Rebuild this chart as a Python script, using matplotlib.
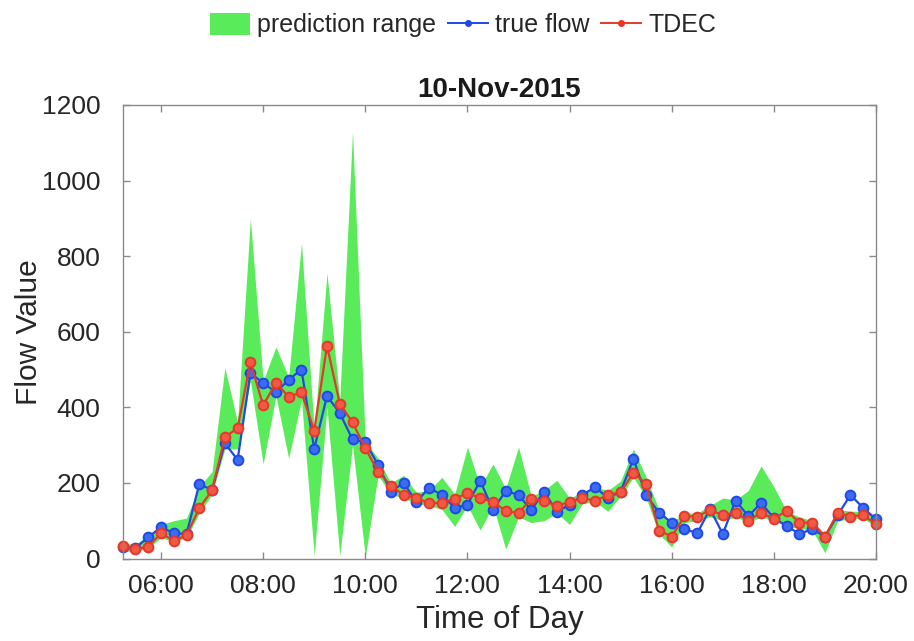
import numpy as np
import matplotlib
matplotlib.use('Agg')
import matplotlib.pyplot as plt
from matplotlib.patches import Patch
from matplotlib.lines import Line2D

# time of day in hours, 15-minute steps from 05:15 to 20:00
t_start = 5.25
t_step = 0.25

true_flow = [31, 28, 56, 83, 67, 65, 197, 181, 305, 261,
             490, 465, 440, 473, 500, 290, 430, 385, 315, 308,
             248, 177, 200, 150, 187, 168, 134, 142, 206, 128,
             179, 168, 128, 177, 124, 142, 168, 189, 160, 177,
             263, 168, 121, 95, 78, 67, 131, 65, 153, 112,
             147, 107, 86, 65, 78, 58, 115, 168, 134, 104]

tdec = [34, 25, 31, 67, 47, 62, 133, 181, 321, 345,
        520, 405, 465, 428, 440, 338, 563, 410, 360, 292,
        230, 193, 168, 160, 147, 147, 158, 173, 160, 150,
        126, 120, 158, 153, 139, 150, 160, 153, 168, 175,
        227, 197, 74, 58, 112, 111, 128, 115, 121, 100,
        121, 105, 126, 95, 95, 58, 121, 111, 115, 91]

range_low = [20, 18, 28, 55, 45, 55, 120, 170, 290, 290,
             470, 250, 430, 265, 420, 8, 400, 8, 300, 5,
             220, 170, 160, 145, 140, 130, 85, 140, 75, 140,
             25, 110, 95, 100, 120, 90, 145, 150, 125, 165,
             215, 160, 65, 30, 95, 100, 110, 100, 110, 95,
             110, 100, 85, 80, 75, 15, 100, 105, 105, 85]

range_high = [40, 38, 60, 90, 100, 107, 190, 230, 505, 360,
              900, 470, 560, 480, 835, 340, 755, 420, 1130, 310,
              265, 200, 220, 175, 180, 215, 170, 295, 190, 250,
              185, 295, 165, 180, 207, 160, 175, 190, 180, 205,
              290, 215, 130, 95, 120, 120, 140, 160, 155, 180,
              245, 190, 125, 110, 100, 65, 130, 125, 125, 110]

tick_hours = [6, 8, 10, 12, 14, 16, 18, 20]
tick_labels = ['06:00', '08:00', '10:00', '12:00', '14:00', '16:00', '18:00', '20:00']

plt.rcParams['font.family'] = ['Liberation Sans', 'DejaVu Sans']

t = t_start + t_step * np.arange(len(true_flow))

green = '#5aeb5a'
blue = '#1f48e6'
red = '#e8372a'

fig = plt.figure(figsize=(9.14, 6.41), dpi=100)
ax = fig.add_axes([122.7 / 914, 1 - 558.5 / 641, (876 - 122.7) / 914, (558.5 - 105) / 641])

ax.fill_between(t, range_low, range_high, color=green, linewidth=0)
ax.plot(t, true_flow, '-o', color=blue, lw=1.6, ms=7,
        mfc='#3b6cf0', mec=blue, mew=1.4, clip_on=False)
ax.plot(t, tdec, '-o', color=red, lw=1.6, ms=7,
        mfc='#f05a44', mec=red, mew=1.4, clip_on=False)

ax.set_xlim(t_start, 20)
ax.set_ylim(0, 1200)
ax.set_xticks(tick_hours)
ax.set_xticklabels(tick_labels)
ax.set_yticks(np.arange(0, 1201, 200))

for s in ax.spines.values():
    s.set_color('#8a8a8a')
    s.set_linewidth(1.0)
ax.tick_params(direction='in', length=5, width=1.0, color='#8a8a8a',
               labelsize=19, labelcolor='#262626',
               top=True, right=True)
ax.tick_params(axis='y', pad=16)
ax.tick_params(axis='x', pad=11)

ax.set_xlabel('Time of Day', fontsize=22.5, color='#262626', labelpad=5)
ax.set_ylabel('Flow Value', fontsize=21.5, color='#262626', labelpad=-1)
ax.set_title('10-Nov-2015', fontsize=20, fontweight='bold', color='#1a1a1a', pad=6)

handles = [Patch(facecolor=green, edgecolor='none'),
           Line2D([], [], color=blue, lw=1.4, marker='o', ms=4, mfc=blue, mec=blue),
           Line2D([], [], color=red, lw=1.4, marker='o', ms=4, mfc=red, mec=red)]
fig.legend(handles, ['prediction range', 'true flow', 'TDEC'],
           loc='center', bbox_to_anchor=(463 / 914, 1 - 25 / 641),
           ncol=3, frameon=False, fontsize=18, labelcolor='#262626',
           handlelength=1.6, handleheight=1.0, handletextpad=0.3,
           columnspacing=0.45, borderpad=0)

fig.savefig('out.png', dpi=100)
